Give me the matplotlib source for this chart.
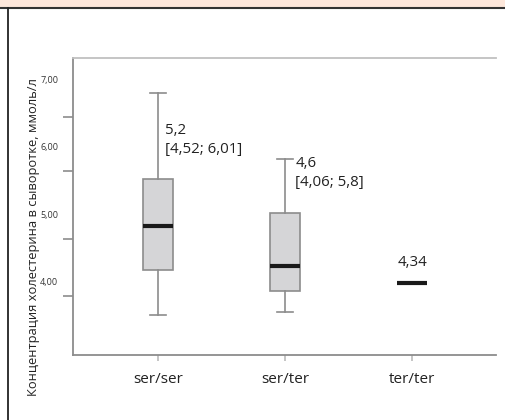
import matplotlib.pyplot as plt
from matplotlib.patches import Rectangle
from matplotlib.lines import Line2D

# data
groups = ['ser/ser', 'ser/ter', 'ter/ter']
whislo = [3.52, 3.56, 4.00]
q1 = [4.19, 3.88, 4.00]
med = [4.84, 4.24, 4.00]
q3 = [5.54, 5.04, 4.00]
whishi = [6.81, 5.84, 4.00]
notes = ['5,2\n[4,52; 6,01]', '4,6\n[4,06; 5,8]', '4,34']

ytick_vals = [4, 5, 6, 7]
ytick_labels = ['4,00', '5,00', '6,00', '7,00']
minor_ticks = [3.8, 4.65, 5.65, 6.45]

plt.rcParams['font.family'] = ['Open Sans', 'DejaVu Sans']

fig = plt.figure(figsize=(5.05, 4.2), dpi=100)
ax = fig.add_axes([0.1446, 0.155, 0.8374, 0.707])

stats = []
for i in range(len(groups)):
    stats.append(dict(label=groups[i], whislo=whislo[i], q1=q1[i], med=med[i],
                      q3=q3[i], whishi=whishi[i], fliers=[]))

edge = '#8c8c8c'
pos = [1, 2, 3]
ax.bxp(stats, positions=pos, widths=0.23, patch_artist=True, showfliers=False,
       boxprops=dict(facecolor='#d5d5d7', edgecolor=edge, linewidth=1.2),
       whiskerprops=dict(color=edge, linewidth=1.2),
       capprops=dict(color=edge, linewidth=1.2),
       medianprops=dict(color='#1a1a1a', linewidth=3, solid_capstyle='butt'),
       capwidths=0.12)

# annotations
ax.text(1.055, 6.37, notes[0], ha='left', va='top', fontsize=10.8,
        color='#222222', linespacing=1.4)
ax.text(2.08, 5.88, notes[1], ha='left', va='top', fontsize=10.8,
        color='#222222', linespacing=1.4)
ax.text(3.0, 4.19, notes[2], ha='center', va='bottom', fontsize=10.8,
        color='#222222')

ax.set_xlim(0.331, 3.66)
ax.set_ylim(2.93, 7.33)

ax.set_yticks(minor_ticks)
ax.set_yticklabels([])
ax.tick_params(axis='y', length=7, width=1.2, color=edge)
for v, lab in zip(ytick_vals, ytick_labels):
    ax.text(-0.035, v, lab, transform=ax.get_yaxis_transform(), ha='right',
            va='center', fontsize=6.5, color='#333333')

ax.set_xticks(pos)
ax.set_xticklabels(groups, fontsize=11, color='#222222')
ax.tick_params(axis='x', length=4, width=1.2, color='#bbbbbb', pad=8)

for s in ['left', 'bottom', 'top']:
    ax.spines[s].set_color(edge)
    ax.spines[s].set_linewidth(1.3)
ax.spines['top'].set_color('#c0c0c0')
ax.spines['right'].set_visible(False)

fig.text(0.067, 0.436, 'Концентрация холестерина в сыворотке, ммоль/л',
         rotation=90, ha='center', va='center', fontsize=9.3, color='#222222')

# page frame
fig.patches.append(Rectangle((0, 1 - 7 / 420), 1, 7 / 420, transform=fig.transFigure,
                             facecolor='#fde7db', edgecolor='none', zorder=0))
fig.lines.append(Line2D([0, 1], [1 - 7.5 / 420] * 2, transform=fig.transFigure,
                        color='#333333', linewidth=1.5))
fig.lines.append(Line2D([8 / 505] * 2, [0, 1 - 7.5 / 420], transform=fig.transFigure,
                        color='#222222', linewidth=1.3))

fig.savefig('out.png', dpi=100)
